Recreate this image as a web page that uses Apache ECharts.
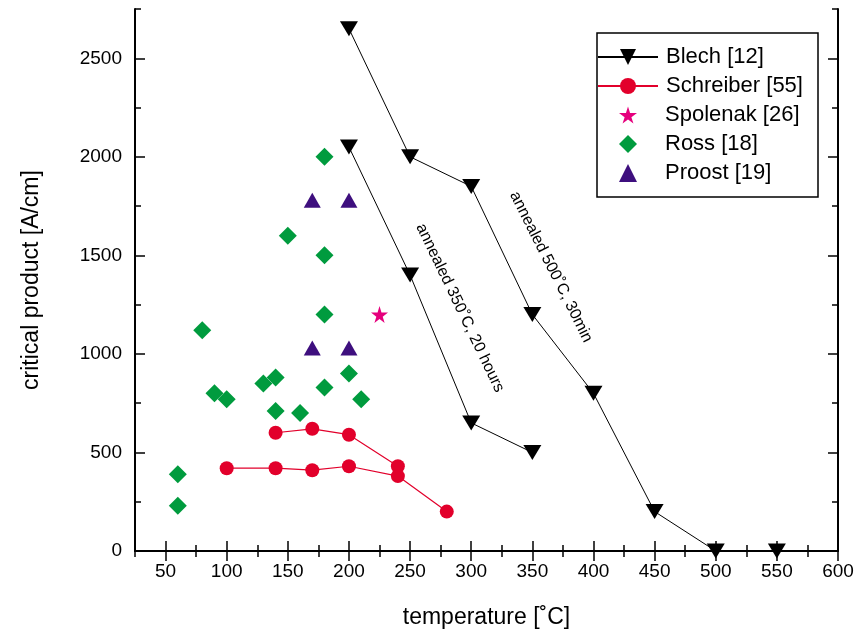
<!DOCTYPE html>
<html>
<head>
<meta charset="utf-8">
<script src="https://cdn.jsdelivr.net/npm/echarts@6/dist/echarts.min.js"></script>
<style>
  html, body { margin: 0; padding: 0; background: #fff; }
  #chart { width: 857px; height: 630px; }
</style>
</head>
<body>
<div id="chart"></div>
<script>
// tick labels
const xTicks = [50, 100, 150, 200, 250, 300, 350, 400, 450, 500, 550, 600];
const yTicks = [0, 500, 1000, 1500, 2000, 2500];

// Blech [12] - two annealing runs
const blechA = [[200, 2650], [250, 2000], [300, 1850], [350, 1200], [400, 800], [450, 200], [500, 0], [550, 0]];
const blechB = [[200, 2050], [250, 1400], [300, 650], [350, 500]];
// Schreiber [55]
const schreiberA = [[140, 600], [170, 620], [200, 590], [240, 430]];
const schreiberB = [[100, 420], [140, 420], [170, 410], [200, 430], [240, 380], [280, 200]];
// Spolenak [26]
const spolenak = [[225, 1200]];
// Ross [18]
const ross = [[60, 390], [60, 230], [80, 1120], [90, 800], [100, 770], [130, 850], [140, 880], [140, 710],
  [150, 1600], [160, 700], [180, 2000], [180, 1500], [180, 1200], [180, 830], [200, 900], [210, 770]];
// Proost [19]
const proost = [[170, 1780], [200, 1780], [170, 1030], [200, 1030]];

const font = "'Liberation Sans', Arial, sans-serif";
const downTri = 'path://M0,0 L20,0 L10,17 Z';
const star = 'path://M50,0 L61,35 L98,35 L68,57 L79,91 L50,70 L21,91 L32,57 L2,35 L39,35 Z';

const chart = echarts.init(document.getElementById('chart'));

function xAxisPair(pos) {
  const base = {
    type: 'value', position: pos, min: 25, max: 600, splitLine: { show: false }
  };
  return [
    Object.assign({}, base, {
      interval: 25,
      axisLine: { show: true, lineStyle: { color: '#000', width: 2 } },
      axisTick: { show: true, inside: true, length: 6, lineStyle: { color: '#000', width: 1.5 } },
      axisLabel: { show: false }
    }),
    Object.assign({}, base, {
      axisLine: { show: false },
      axisTick: { show: true, inside: true, length: 10, customValues: xTicks, lineStyle: { color: '#000', width: 1.5 } },
      axisLabel: pos === 'bottom'
        ? { show: true, customValues: xTicks, margin: 11, color: '#000', fontSize: 19, fontFamily: font }
        : { show: false },
      name: pos === 'bottom' ? 'temperature [˚C]' : '',
      nameLocation: 'middle',
      nameGap: 55,
      nameTextStyle: { color: '#000', fontSize: 23, fontFamily: font }
    })
  ];
}

function yAxisPair(pos) {
  const base = {
    type: 'value', position: pos, min: 0, max: 2750, splitLine: { show: false }
  };
  return [
    Object.assign({}, base, {
      interval: 250,
      axisLine: { show: true, lineStyle: { color: '#000', width: 2 } },
      axisTick: { show: true, inside: true, length: 6, lineStyle: { color: '#000', width: 1.5 } },
      axisLabel: { show: false }
    }),
    Object.assign({}, base, {
      axisLine: { show: false },
      axisTick: { show: true, inside: true, length: 10, customValues: yTicks, lineStyle: { color: '#000', width: 1.5 } },
      axisLabel: pos === 'left'
        ? { show: true, customValues: yTicks, margin: 13, color: '#000', fontSize: 19, fontFamily: font,
            formatter: v => String(v) }
        : { show: false },
      name: pos === 'left' ? 'critical product [A/cm]' : '',
      nameLocation: 'middle',
      nameGap: 92,
      nameTextStyle: { color: '#000', fontSize: 23, fontFamily: font }
    })
  ];
}

const legendText = { color: '#000', fontSize: 22, lineHeight: 22, fontFamily: font };

const options = {
  backgroundColor: '#fff',
  animation: false,
  grid: { left: 135, right: 19, top: 9, bottom: 79, outerBoundsMode: 'none' },
  xAxis: [...xAxisPair('bottom'), ...xAxisPair('top')],
  yAxis: [...yAxisPair('left'), ...yAxisPair('right')],
  legend: [
    {
      orient: 'vertical', left: 597, top: 46, padding: 0,
      itemWidth: 60, itemHeight: 20, itemGap: 7,
      data: ['Blech [12]', 'Schreiber [55]'],
      textStyle: Object.assign({ padding: [0, 0, 0, 3] }, legendText)
    },
    {
      orient: 'vertical', left: 619, top: 104, padding: 0,
      itemWidth: 18, itemHeight: 18, itemGap: 7,
      data: ['Spolenak [26]', 'Ross [18]', 'Proost [19]'],
      textStyle: Object.assign({ padding: [0, 0, 0, 23] }, legendText)
    }
  ],
  series: [
    {
      name: 'Blech [12]', type: 'line', data: blechA, clip: false,
      symbol: downTri, symbolSize: [18, 15],
      lineStyle: { color: '#000', width: 1 }, itemStyle: { color: '#000' }
    },
    {
      name: 'Blech [12]', type: 'line', data: blechB, clip: false,
      symbol: downTri, symbolSize: [18, 15],
      lineStyle: { color: '#000', width: 1 }, itemStyle: { color: '#000' }
    },
    {
      name: 'Schreiber [55]', type: 'line', data: schreiberA,
      symbol: 'circle', symbolSize: 14,
      lineStyle: { color: '#e2002b', width: 1.2 }, itemStyle: { color: '#e2002b' }
    },
    {
      name: 'Schreiber [55]', type: 'line', data: schreiberB,
      symbol: 'circle', symbolSize: 14,
      lineStyle: { color: '#e2002b', width: 1.2 }, itemStyle: { color: '#e2002b' }
    },
    {
      name: 'Spolenak [26]', type: 'scatter', data: spolenak,
      symbol: star, symbolSize: 17, itemStyle: { color: '#e5007d', opacity: 1 }
    },
    {
      name: 'Ross [18]', type: 'scatter', data: ross,
      symbol: 'diamond', symbolSize: [18, 18], itemStyle: { color: '#009b3e', opacity: 1 }
    },
    {
      name: 'Proost [19]', type: 'scatter', data: proost,
      symbol: 'triangle', symbolSize: [17, 15], itemStyle: { color: '#3e0f7e', opacity: 1 }
    }
  ],
  graphic: [
    {
      type: 'rect', shape: { x: 597, y: 33, width: 221, height: 164 },
      style: { fill: null, stroke: '#000', lineWidth: 1.5 }, z: 10
    },
    {
      type: 'text', x: 460, y: 308, rotation: -64.4 * Math.PI / 180,
      style: {
        text: 'annealed 350˚C, 20 hours', font: '16px ' + font, fill: '#000',
        align: 'center', verticalAlign: 'middle', textAlign: 'center', textVerticalAlign: 'middle'
      }
    },
    {
      type: 'text', x: 551, y: 267, rotation: -63.4 * Math.PI / 180,
      style: {
        text: 'annealed 500˚C, 30min', font: '16px ' + font, fill: '#000',
        align: 'center', verticalAlign: 'middle', textAlign: 'center', textVerticalAlign: 'middle'
      }
    }
  ]
};

chart.setOption(options);
</script>
</body>
</html>
